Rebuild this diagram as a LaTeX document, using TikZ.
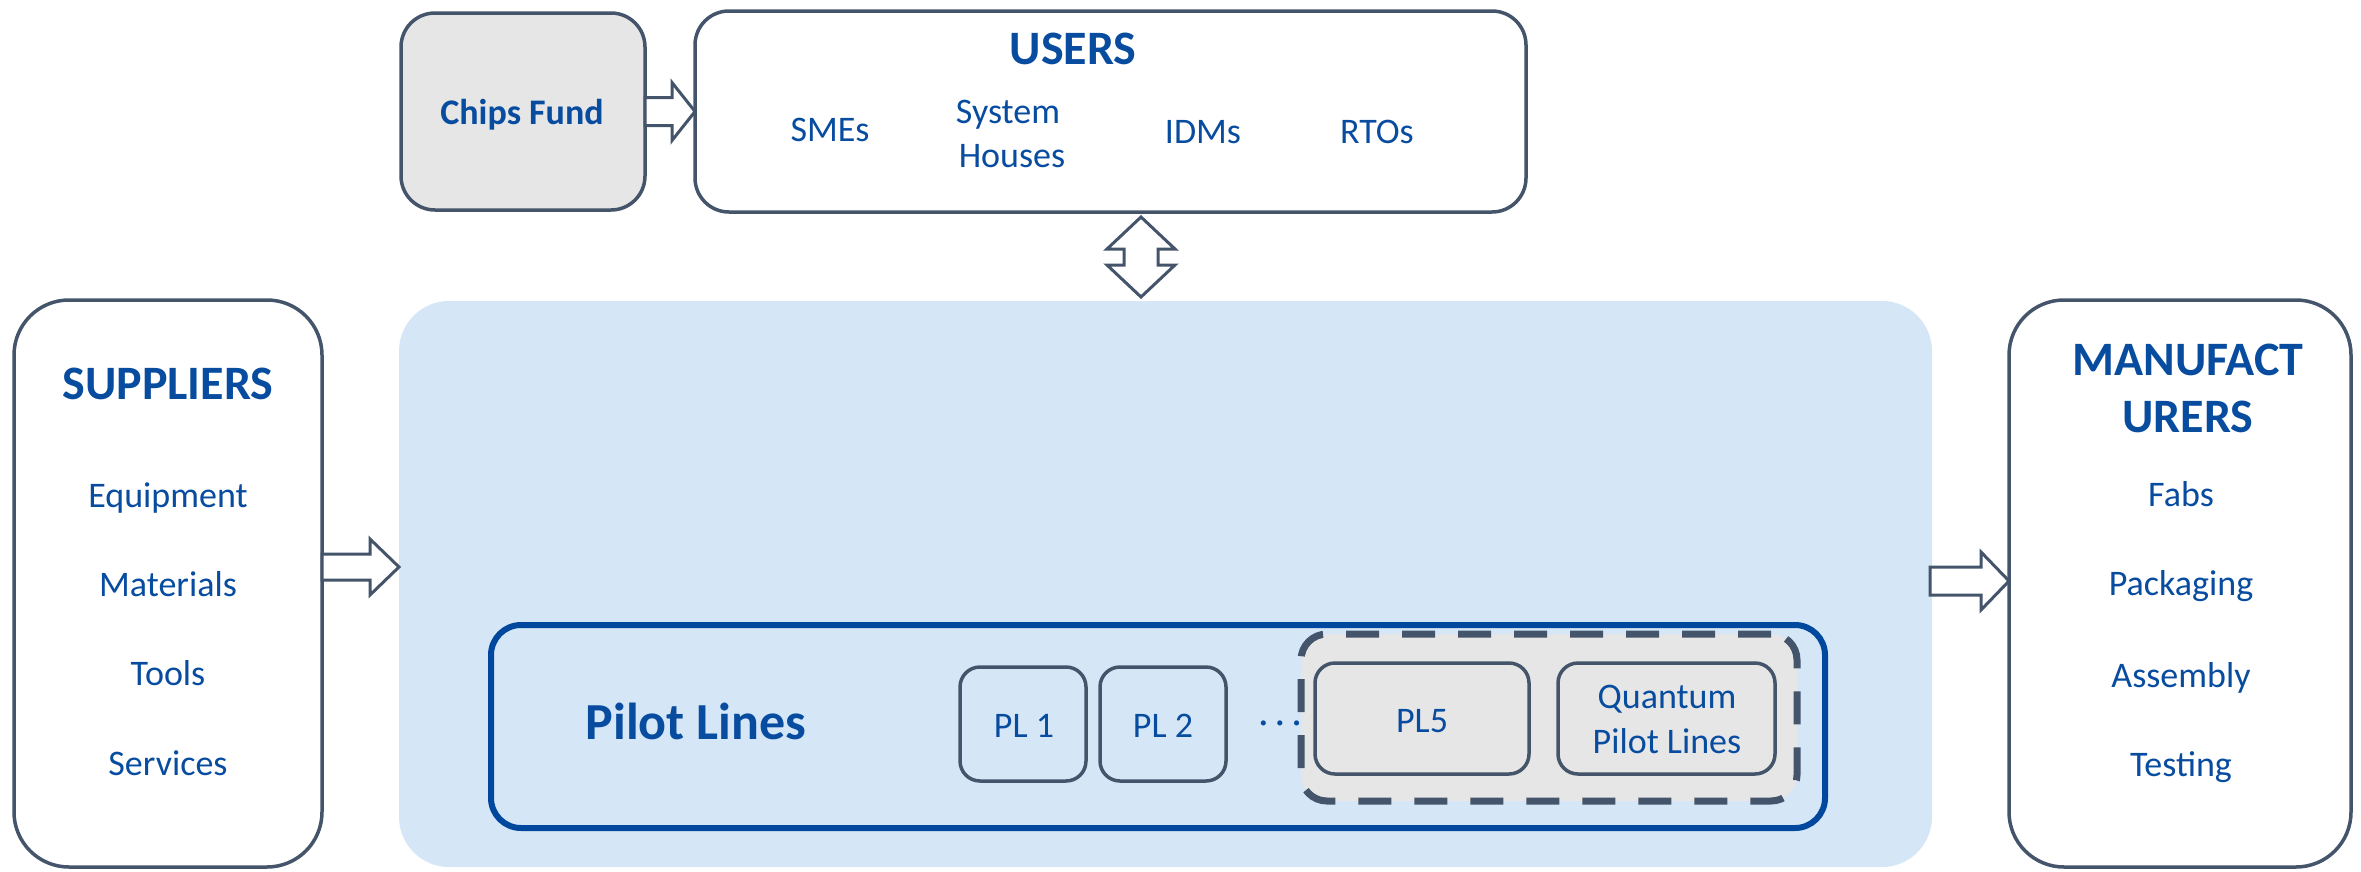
\documentclass[tikz,border=0pt]{standalone}
\usepackage{fontspec}
\setmainfont{Carlito}
\usetikzlibrary{calc}

\definecolor{outline}{HTML}{44546A}
\definecolor{txtblue}{RGB}{8,76,160}
\definecolor{plblue}{RGB}{0,72,158}
\definecolor{hubfill}{RGB}{213,231,247}
\definecolor{greyfill}{RGB}{230,230,230}

% horizontal block arrow: from, to, shaft half-width, head half-width, head length
\newcommand\harrow[5]{%
  \draw[blockarrow] let \p1=(#1), \p2=(#2) in
    (\x1,\y1+#3pt) -- (\x2-#5pt,\y1+#3pt) -- (\x2-#5pt,\y1+#4pt) -- (\x2,\y1)
    -- (\x2-#5pt,\y1-#4pt) -- (\x2-#5pt,\y1-#3pt) -- (\x1,\y1-#3pt) -- cycle;}
% vertical double block arrow: top tip, bottom tip, shaft half-width, head half-width, head length
\newcommand\vdarrow[5]{%
  \draw[blockarrow] let \p1=(#1), \p2=(#2) in
    (\x1,\y1) -- (\x1+#4pt,\y1-#5pt) -- (\x1+#3pt,\y1-#5pt) -- (\x1+#3pt,\y2+#5pt)
    -- (\x1+#4pt,\y2+#5pt) -- (\x1,\y2) -- (\x1-#4pt,\y2+#5pt) -- (\x1-#3pt,\y2+#5pt)
    -- (\x1-#3pt,\y1-#5pt) -- (\x1-#4pt,\y1-#5pt) -- cycle;}

\tikzset{
  box/.style={draw=outline, line width=3.5pt, rounded corners=#1, inner sep=0pt, outer sep=0pt},
  box/.default=34pt,
  blockarrow/.style={draw=outline, fill=white, line width=3pt, line join=miter},
  title/.style={text=txtblue, font=\bfseries\fontsize{48}{55}\selectfont, anchor=base, inner sep=0pt},
  item/.style={text=txtblue, font=\fontsize{36}{43}\selectfont, anchor=base, inner sep=0pt},
}

\begin{document}
\begin{tikzpicture}[x=1pt, y=-1pt]
\useasboundingbox (0,0) rectangle (2361,871);

% hub area
\node[fill=hubfill, rounded corners=50pt, minimum width=1533pt, minimum height=566pt, inner sep=0pt, outer sep=0pt] (hub) at (1165.5,584) {};

% outer boxes
\node[box=55pt, fill=white, minimum width=308pt, minimum height=567pt] (sup) at (168,583.5) {};
\node[box=55pt, fill=white, minimum width=342pt, minimum height=567pt] (man) at (2180,583.5) {};
\node[box, fill=greyfill, minimum width=244pt, minimum height=197pt] (chips) at (523,111.5) {};
\node[box, fill=white, minimum width=831pt, minimum height=201pt] (users) at (1110.5,111.5) {};

% pilot lines frame
\node[draw=plblue, line width=6pt, rounded corners=30pt, minimum width=1334pt, minimum height=203pt, inner sep=0pt, outer sep=0pt] (pilot) at (1158,726.5) {};
\node[draw=outline, fill=greyfill, line width=7pt, dash pattern=on 33pt off 23pt, rounded corners=26pt, minimum width=496pt, minimum height=167pt, inner sep=0pt, outer sep=0pt] (group) at (1549,717.5) {};
\node[box=20pt, minimum width=126pt, minimum height=114pt] (pl1) at (1023,724) {};
\node[box=20pt, minimum width=126pt, minimum height=114pt] (pl2) at (1163,724) {};
\node[box=20pt, fill=greyfill, minimum width=214pt, minimum height=111pt] (pl5) at (1422,718.5) {};
\node[box=20pt, fill=greyfill, minimum width=217pt, minimum height=111pt] (qpl) at (1666.5,718.5) {};

% texts
\node[title] (supT) at (168,399) {SUPPLIERS};
\node[item] (supA) at (168,507) {Equipment};
\node[item] (supB) at (168,596) {Materials};
\node[item] (supC) at (168,685) {Tools};
\node[item] (supD) at (168,775) {Services};

\node[title] (manT1) at (2188,375) {MANUFACT};
\node[title] (manT2) at (2188,432) {URERS};
\node[item] (manA) at (2181,506) {Fabs};
\node[item] (manB) at (2181,595) {Packaging};
\node[item] (manC) at (2181,687) {Assembly};
\node[item] (manD) at (2181,776) {Testing};

\node[item, font=\bfseries\fontsize{36}{43}\selectfont] (chipsT) at (522,124) {Chips Fund};
\node[title] (usersT) at (1073,64) {USERS};
\node[item] (usA) at (830,141) {SMEs};
\node[item] (usB1) at (1008,123) {System};
\node[item] (usB2) at (1012,167) {Houses};
\node[item] (usC) at (1203,143) {IDMs};
\node[item] (usD) at (1377,143) {RTOs};

\node[title, font=\bfseries\fontsize{52}{60}\selectfont] (pilotT) at (696,739) {Pilot Lines};
\node[item] (pl1T) at (1024,737) {PL 1};
\node[item] (pl2T) at (1163,737) {PL 2};
\node[item] (dotsT) at (1280,733) {·\kern7.5pt·\kern7.5pt·};
\node[item] (pl5T) at (1422,732) {PL5};
\node[item] (qplT1) at (1667,708) {Quantum};
\node[item] (qplT2) at (1667,753) {Pilot Lines};

% block arrows
\coordinate (supOut) at ($(sup.east)+(0,-16.5)$);
\coordinate (hubOut) at ($(hub.east)+(-2,-3)$);
\coordinate (usersTip) at ($(users.south)+(30.5,5)$);
\coordinate (hubTip) at ($(hub.north)+(-24.5,-4)$);
\harrow{chips.east}{users.west}{14}{29}{23}
\harrow{supOut}{hub.west}{13}{28}{29}
\harrow{hubOut}{man.west}{14}{29}{28}
\vdarrow{usersTip}{hubTip}{17}{34}{32}
\end{tikzpicture}
\end{document}
